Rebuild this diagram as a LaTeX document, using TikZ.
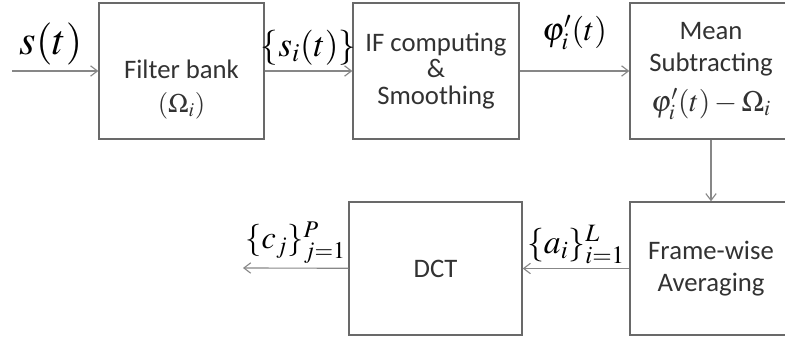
\documentclass[tikz,border=0pt]{standalone}
\usepackage{mathptmx}
\usepackage[no-math]{fontspec}
\newfontfamily\boxfont{Carlito}
\usetikzlibrary{arrows.meta,positioning}
\definecolor{frame}{RGB}{105,105,105}
\definecolor{wire}{RGB}{135,135,135}
\definecolor{ink}{RGB}{50,50,50}
\tikzset{
  >={Straight Barb[length=1.7mm,width=2.6mm]},
  blk/.style={draw=frame,line width=1pt,minimum width=#1,minimum height=3.4cm,
    align=center,text=ink,font=\boxfont\fontsize{19}{23}\selectfont,inner sep=2pt},
  blk/.default=4.1cm,
  flow/.style={->,draw=wire,line width=0.8pt},
  sig/.style={text=black,font=\fontsize{#1}{#1}\selectfont,inner sep=1pt},
  sig/.default=22,
}
\begin{document}
\begin{tikzpicture}
  \useasboundingbox (0,0) rectangle (19.625,8.55);
  % upper row
  \node[blk=4.125cm] (fb) at (4.5375,6.775) {\rule{0pt}{40pt}Filter bank\\[1pt]$(\Omega_i)$};
  \node[blk=4.15cm,font=\boxfont\fontsize{19}{19}\selectfont] (ifc) at (10.9,6.775) {IF computing\\\&\\Smoothing};
  \node[blk=4.05cm] (ms) at (17.775,6.775) {Mean\\Subtracting\\[5pt]{\fontsize{21}{21}\selectfont$\varphi_i'(t)-\Omega_i$}};
  % lower row
  \node[blk=4.05cm,minimum height=3.325cm] (fw) at (17.775,1.8375) {Frame-wise\\Averaging};
  \node[blk=4.325cm,minimum height=3.325cm] (dct) at (10.8875,1.8375) {DCT};
  \coordinate (in) at (0.3,6.775);
  \coordinate (out) at (6.075,1.85);
  % connectors
  \draw[flow] (in) -- node[sig=30,above=3pt,xshift=-3pt] {$s(t)$} (fb);
  \draw[flow] (fb) -- node[sig=25,above=3pt] {$\{s_i(t)\}$} (ifc);
  \draw[flow] (ifc) -- node[sig=23,above=14pt] {$\varphi_i'(t)$} (ms);
  \draw[flow] (ms) -- (fw);
  \draw[flow] (fw) -- node[sig=24,above=2pt] {$\{a_i\}_{i=1}^{L}$} (dct);
  \draw[flow] (dct) -- node[sig=23,above=2pt] {$\{c_j\}_{j=1}^{P}$} (out);
\end{tikzpicture}
\end{document}
